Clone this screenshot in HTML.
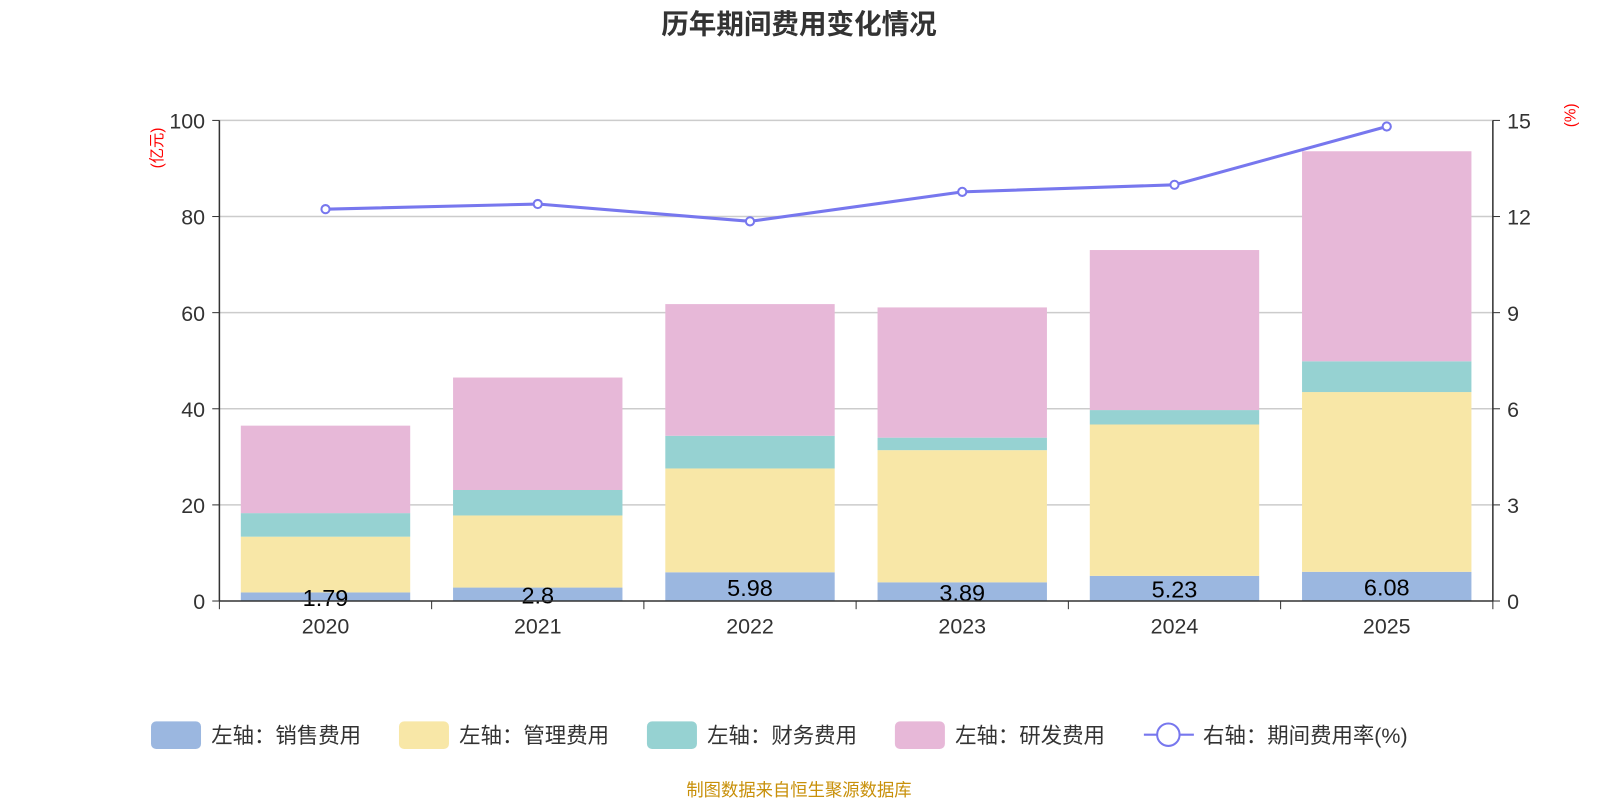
<!DOCTYPE html>
<html><head><meta charset="utf-8">
<style>
body{margin:0;background:#fff;width:1600px;height:800px;overflow:hidden}
svg{display:block;font-family:"Liberation Sans","Noto Sans CJK SC",sans-serif}
</style></head>
<body>
<svg id="c" width="1600" height="800" viewBox="0 0 1568 784">
<text x="783" y="33" text-anchor="middle" font-size="27" font-weight="bold" fill="#333">历年期间费用变化情况</text>
<text x="0" y="0" transform="translate(159,145) rotate(-90)" text-anchor="middle" font-size="15" fill="red">(亿元)</text>
<text x="0" y="0" transform="translate(1544,113) rotate(-90)" text-anchor="middle" font-size="15" fill="red">(%)</text>
<g id="grid"></g><g id="bars"></g><g id="axes"></g><g id="line"></g>
<g id="legend" font-size="21" fill="#333">
<rect x="148" y="707" width="49" height="27" rx="5" fill="#9bb7e0"/>
<text x="207" y="728">左轴：销售费用</text>
<rect x="391" y="707" width="49" height="27" rx="5" fill="#f8e7a7"/>
<text x="450" y="728">左轴：管理费用</text>
<rect x="634" y="707" width="49" height="27" rx="5" fill="#96d2d2"/>
<text x="693" y="728">左轴：财务费用</text>
<rect x="877" y="707" width="49" height="27" rx="5" fill="#e7b8d8"/>
<text x="936" y="728">左轴：研发费用</text>
<line x1="1121" y1="720" x2="1170" y2="720" stroke="#7777ee" stroke-width="2"/>
<circle cx="1145" cy="720" r="11" fill="#fff" stroke="#7777ee" stroke-width="2"/>
<text x="1179" y="728">右轴：期间费用率(%)</text>
</g>
<text x="783" y="780" text-anchor="middle" font-size="17" fill="#c8900a">制图数据来自恒生聚源数据库</text>
</svg>
<script>
const categories=["2020","2021","2022","2023","2024","2025"];
const sales=[1.79,2.8,5.98,3.89,5.23,6.08];
const admin=[11.6,15.0,21.6,27.5,31.5,37.4];
const finance=[4.9,5.3,6.8,2.6,3.0,6.4];
const rd=[18.2,23.4,27.4,27.1,33.3,43.7];
const rate=[12.23,12.39,11.85,12.77,12.99,14.81];
const leftTicks=[0,20,40,60,80,100];
const rightTicks=[0,3,6,9,12,15];
const X0=215,X1=1463,Y0=589,Y1=118;
const bw=(X1-X0)/categories.length;
const yL=v=>Y0-(v/100)*(Y0-Y1);
const yR=v=>Y0-(v/15)*(Y0-Y1);
const xC=i=>X0+bw*(i+0.5);
const NS="http://www.w3.org/2000/svg";
function mk(p,t,a){const e=document.createElementNS(NS,t);for(const k in a)e.setAttribute(k,a[k]);document.getElementById(p).appendChild(e);return e;}
leftTicks.forEach((v,i)=>{
 if(v>0){const g=mk('grid','line',{x1:X0,x2:X1,y1:yL(v),y2:yL(v),stroke:'#ccc','stroke-width':1.5});
 
 }
 const t=mk('axes','text',{x:X0-14,y:yL(v)+8,'text-anchor':'end','font-size':21,fill:'#333'});t.textContent=v;
 
 
 mk('axes','line',{x1:X0-7,x2:X0,y1:yL(v),y2:yL(v),stroke:'#333'});
});
rightTicks.forEach(v=>{
 const t=mk('axes','text',{x:X1+14,y:yR(v)+8,'font-size':21,fill:'#333'});t.textContent=v;
 
 
 mk('axes','line',{x1:X1,x2:X1+7,y1:yR(v),y2:yR(v),stroke:'#333'});
});
const series=[[sales,'#9bb7e0','sales'],[admin,'#f8e7a7','admin'],[finance,'#96d2d2','finance'],[rd,'#e7b8d8','rd']];
categories.forEach((c,i)=>{
 let base=0;
 series.forEach(([arr,col,nm])=>{
  const top=base+arr[i];
  const r=mk('bars','rect',{x:xC(i)-83,width:166,y:yL(top),height:yL(base)-yL(top),fill:col});
  
  
  base=top;
 });
 const l=mk('bars','text',{x:xC(i),y:(yL(sales[i])+Y0)/2+9,'text-anchor':'middle','font-size':23,fill:'#000'});
 l.textContent=sales[i];
 
 
 const t=mk('axes','text',{x:xC(i),y:Y0+32,'text-anchor':'middle','font-size':21,fill:'#333'});t.textContent=c;
 
 
});
for(let i=0;i<=categories.length;i++)mk('axes','line',{x1:X0+bw*i,x2:X0+bw*i,y1:Y0,y2:Y0+8,stroke:'#333'});
mk('axes','line',{x1:X0,x2:X1,y1:Y0,y2:Y0,stroke:'#333','stroke-width':1.5});
mk('axes','line',{x1:X0,x2:X0,y1:Y1,y2:Y0,stroke:'#333','stroke-width':1.5});
mk('axes','line',{x1:X1,x2:X1,y1:Y1,y2:Y0,stroke:'#333','stroke-width':1.5});
const pl=mk('line','polyline',{points:rate.map((v,i)=>xC(i)+','+yR(v)).join(' '),fill:'none',stroke:'#7777ee','stroke-width':3});


rate.forEach((v,i)=>{const p=mk('line','circle',{cx:xC(i),cy:yR(v),r:4,fill:'#fff',stroke:'#7777ee','stroke-width':2});
 
 });
</script>
</body></html>
